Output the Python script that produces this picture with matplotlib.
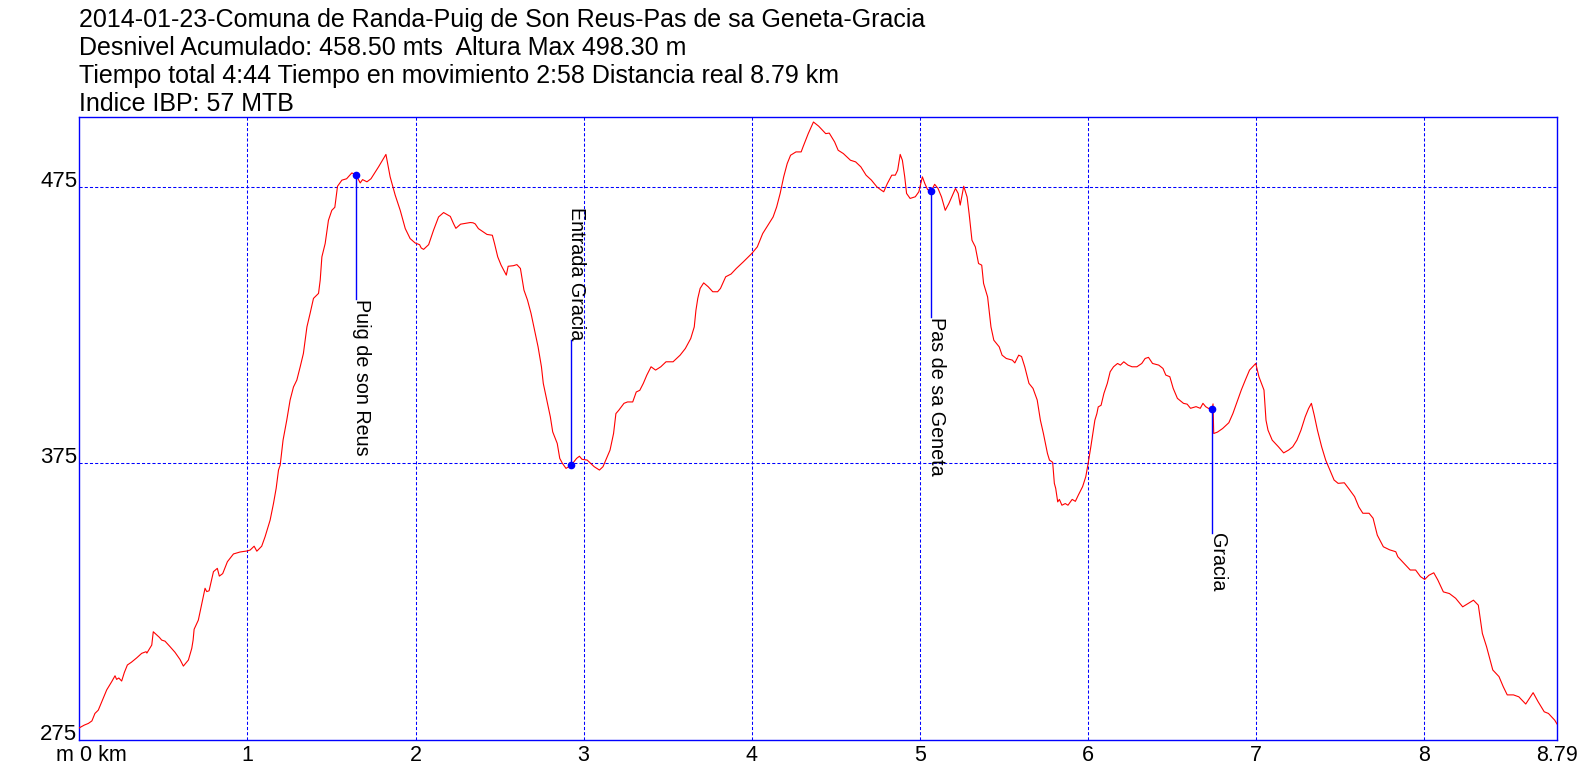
import matplotlib
matplotlib.use("Agg")
import matplotlib.pyplot as plt
import matplotlib.transforms as mtransforms

plt.rcParams['font.family'] = ['Liberation Sans', 'DejaVu Sans']

title_lines = [
    "2014-01-23-Comuna de Randa-Puig de Son Reus-Pas de sa Geneta-Gracia",
    "Desnivel Acumulado: 458.50 mts  Altura Max 498.30 m",
    "Tiempo total 4:44 Tiempo en movimiento 2:58 Distancia real 8.79 km",
    "Indice IBP: 57 MTB",
]

# elevation profile (km, m)
dist_km = [
    0.000, 0.030, 0.054, 0.075, 0.093, 0.113, 0.163, 0.193, 0.2125, 0.222,
    0.235, 0.252, 0.268, 0.286, 0.310, 0.342, 0.371, 0.397, 0.402, 0.431,
    0.440, 0.476, 0.490, 0.510, 0.540, 0.569, 0.599, 0.619, 0.649, 0.669,
    0.677, 0.683, 0.708, 0.729, 0.748, 0.758, 0.772, 0.798, 0.821, 0.833,
    0.853, 0.881, 0.917, 0.956, 1.000, 1.016, 1.040, 1.056, 1.085, 1.105,
    1.135, 1.155, 1.171, 1.185, 1.195, 1.212, 1.234, 1.254, 1.274, 1.294,
    1.314, 1.333, 1.354, 1.373, 1.393, 1.423, 1.433, 1.443, 1.4625, 1.482,
    1.502, 1.520, 1.536, 1.562, 1.590, 1.621, 1.645, 1.671, 1.685, 1.711,
    1.735, 1.780, 1.824, 1.849, 1.879, 1.909, 1.939, 1.968, 1.998, 2.024,
    2.034, 2.048, 2.078, 2.107, 2.137, 2.167, 2.207, 2.226, 2.240, 2.268,
    2.326, 2.342, 2.355, 2.374, 2.405, 2.425, 2.457, 2.470, 2.489, 2.509,
    2.540, 2.551, 2.582, 2.603, 2.624, 2.645, 2.666, 2.687, 2.708, 2.729,
    2.749, 2.760, 2.781, 2.802, 2.816, 2.843, 2.858, 2.874, 2.895, 2.927,
    2.958, 2.975, 2.990, 3.021, 3.063, 3.094, 3.115, 3.136, 3.157, 3.178,
    3.192, 3.209, 3.240, 3.261, 3.292, 3.313, 3.334, 3.355, 3.376, 3.401,
    3.428, 3.459, 3.490, 3.532, 3.574, 3.605, 3.637, 3.658, 3.668, 3.679,
    3.693, 3.714, 3.741, 3.768, 3.797, 3.814, 3.845, 3.877, 3.908, 3.950,
    4.000, 4.033, 4.065, 4.096, 4.127, 4.148, 4.169, 4.190, 4.211, 4.231,
    4.263, 4.294, 4.305, 4.336, 4.367, 4.398, 4.440, 4.461, 4.493, 4.514,
    4.545, 4.587, 4.618, 4.649, 4.680, 4.712, 4.744, 4.770, 4.785, 4.806,
    4.833, 4.854, 4.868, 4.883, 4.896, 4.910, 4.921, 4.942, 4.973, 4.994,
    5.015, 5.030, 5.046, 5.067, 5.088, 5.108, 5.129, 5.151, 5.172, 5.212,
    5.228, 5.240, 5.261, 5.281, 5.293, 5.310, 5.330, 5.349, 5.368, 5.379,
    5.403, 5.423, 5.440, 5.472, 5.489, 5.514, 5.550, 5.565, 5.588, 5.605,
    5.624, 5.649, 5.673, 5.698, 5.717, 5.735, 5.747, 5.759, 5.771, 5.790,
    5.800, 5.808, 5.820, 5.830, 5.845, 5.865, 5.881, 5.906, 5.925, 5.943,
    5.968, 5.987, 6.001, 6.017, 6.029, 6.041, 6.053, 6.061, 6.078, 6.095,
    6.115, 6.132, 6.152, 6.176, 6.193, 6.213, 6.238, 6.262, 6.291, 6.320,
    6.340, 6.360, 6.384, 6.421, 6.446, 6.463, 6.487, 6.507, 6.532, 6.568,
    6.590, 6.610, 6.643, 6.668, 6.684, 6.700, 6.716, 6.738, 6.744, 6.748,
    6.770, 6.801, 6.838, 6.862, 6.887, 6.912, 6.936, 6.961, 6.998, 7.017,
    7.047, 7.059, 7.071, 7.096, 7.133, 7.164, 7.193, 7.218, 7.243, 7.267,
    7.292, 7.312, 7.329, 7.346, 7.365, 7.390, 7.414, 7.439, 7.464, 7.488,
    7.525, 7.550, 7.586, 7.611, 7.635, 7.672, 7.696, 7.721, 7.757, 7.794,
    7.831, 7.843, 7.880, 7.917, 7.949, 7.978, 8.003, 8.028, 8.057, 8.081,
    8.114, 8.150, 8.187, 8.229, 8.261, 8.293, 8.322, 8.346, 8.371, 8.408,
    8.445, 8.470, 8.494, 8.531, 8.563, 8.604, 8.648, 8.677, 8.714, 8.739,
    8.776, 8.790,
]
elev_m = [
    279.5, 280.5, 281.1, 282.0, 284.7, 285.9, 293.2, 296.2, 298.3, 297.0,
    297.5, 296.4, 299.5, 302.2, 303.2, 304.8, 306.4, 307.0, 306.5, 309.4,
    314.2, 312.2, 311.2, 310.8, 308.8, 306.8, 304.2, 301.8, 304.0, 308.2,
    311.2, 315.1, 318.4, 324.5, 329.9, 328.7, 329.0, 335.9, 337.1, 334.3,
    335.2, 339.5, 342.3, 343.0, 343.4, 343.7, 345.1, 343.3, 345.1, 348.5,
    354.5, 360.5, 366.0, 372.6, 374.4, 383.4, 390.6, 397.9, 402.6, 405.1,
    409.9, 414.7, 424.3, 429.2, 434.6, 436.4, 441.2, 449.6, 454.4, 462.8,
    466.4, 467.5, 475.1, 477.3, 477.8, 479.9, 479.3, 476.3, 477.5, 476.7,
    477.8, 482.1, 486.6, 478.5, 471.9, 466.4, 459.8, 456.2, 454.6, 454.0,
    452.8, 452.3, 454.0, 459.2, 464.0, 465.6, 464.2, 461.6, 459.9, 461.4,
    462.0, 461.9, 461.5, 459.8, 458.5, 457.7, 457.4, 454.4, 449.6, 446.6,
    443.0, 446.2, 446.4, 446.8, 445.4, 437.6, 434.0, 429.2, 423.1, 417.1,
    409.9, 403.9, 397.9, 391.8, 386.4, 382.2, 376.8, 375.0, 373.2, 374.4,
    376.8, 377.6, 376.5, 376.2, 373.8, 372.6, 373.8, 376.8, 379.8, 385.8,
    393.0, 394.2, 396.7, 397.2, 397.2, 400.8, 401.4, 403.9, 406.9, 409.9,
    408.7, 409.9, 411.7, 411.7, 414.1, 416.5, 420.1, 424.3, 430.3, 434.6,
    438.2, 440.2, 438.8, 437.0, 437.0, 438.2, 442.4, 443.4, 445.4, 447.8,
    450.8, 453.2, 458.0, 461.0, 464.0, 467.6, 472.5, 478.5, 483.3, 486.3,
    487.5, 487.5, 489.3, 494.1, 498.3, 496.8, 494.1, 494.3, 491.1, 488.1,
    486.9, 484.5, 483.9, 482.1, 479.1, 477.3, 474.9, 473.7, 473.1, 476.0,
    479.1, 479.1, 480.9, 486.6, 484.5, 478.5, 472.5, 470.7, 471.3, 473.1,
    478.5, 476.0, 473.9, 473.3, 475.8, 474.3, 471.2, 466.4, 468.8, 474.3,
    472.5, 468.3, 475.1, 471.2, 465.2, 455.6, 453.2, 447.2, 446.6, 440.0,
    435.1, 424.3, 419.5, 417.1, 414.1, 412.9, 412.3, 411.3, 414.1, 413.6,
    409.9, 403.9, 402.1, 397.9, 390.6, 385.8, 382.2, 378.6, 376.2, 375.4,
    367.8, 366.0, 361.1, 362.0, 359.9, 360.5, 359.9, 362.0, 361.3, 363.6,
    366.6, 370.2, 375.0, 381.0, 385.8, 390.6, 393.0, 395.4, 396.0, 400.3,
    403.9, 408.1, 409.9, 411.1, 410.5, 411.7, 410.5, 409.9, 409.9, 411.1,
    412.9, 413.3, 411.1, 410.5, 409.3, 406.9, 406.3, 402.1, 398.5, 396.7,
    396.4, 394.9, 395.5, 394.9, 396.7, 395.5, 394.9, 394.5, 396.5, 385.8,
    386.3, 387.6, 389.7, 393.0, 397.2, 401.5, 405.1, 408.7, 411.1, 406.3,
    401.5, 390.6, 387.0, 383.4, 381.0, 378.8, 379.8, 381.0, 383.4, 387.0,
    391.8, 394.8, 396.7, 392.4, 387.0, 381.0, 376.2, 372.6, 369.0, 367.8,
    368.0, 366.0, 363.0, 359.3, 357.0, 357.0, 355.2, 349.1, 344.9, 343.8,
    343.1, 341.3, 338.9, 336.5, 336.5, 334.1, 333.1, 334.6, 335.5, 332.9,
    328.6, 328.0, 326.3, 323.2, 324.4, 325.6, 323.8, 313.6, 308.8, 300.4,
    298.0, 294.4, 291.4, 291.4, 290.7, 288.1, 292.2, 289.0, 285.3, 284.7,
    282.3, 280.9,
]

# waypoints
wpt_names = ["Puig de son Reus", "Entrada Gracia", "Pas de sa Geneta", "Gracia"]
wpt_km = [1.645, 2.927, 5.067, 6.738]
wpt_elev = [479.3, 374.4, 473.3, 394.5]

x_ticks = [1, 2, 3, 4, 5, 6, 7, 8]
x_max = 8.79
y_ticks = [275, 375, 475]

# where each vertical label ends / starts (m) and whether it sits above the point
label_at = [434.2, 419.6, 427.9, 349.7]
label_above = [False, True, False, False]

BLUE = '#0000ff'
RED = '#ff0000'
W, H = 1596, 778

fig = plt.figure(figsize=(W / 100, H / 100), dpi=100)
ax = fig.add_axes([79.3 / W, (H - 740.3) / H, (1557.0 - 79.3) / W, (740.3 - 117.3) / H])
ax.set_xlim(0, x_max)
ax.set_ylim(275, 500)
ax.set_xticks([])
ax.set_yticks([])
for sp in ax.spines.values():
    sp.set_color(BLUE)
    sp.set_linewidth(1.0)

dash = (0, (3, 2))
for k in x_ticks:
    ax.axvline(k, color=BLUE, lw=0.75, ls=dash, zorder=1)
for y in y_ticks[1:]:
    ax.axhline(y, color=BLUE, lw=0.75, ls=dash, zorder=1)

ax.plot(dist_km, elev_m, color=RED, lw=0.8, zorder=3)

for name, k, e, lab, above in zip(wpt_names, wpt_km, wpt_elev, label_at, label_above):
    ax.plot([k, k], [e, lab], color=BLUE, lw=1.0, zorder=4)
    ax.plot([k], [e], 'o', color=BLUE, ms=4.5, zorder=5)
    ax.text(k, lab, name, rotation=-90, rotation_mode='anchor',
            ha='right' if above else 'left', va='baseline',
            fontsize=14.2, color='black', zorder=6)

# axis labels drawn as text
px = mtransforms.ScaledTranslation
ytrans = mtransforms.blended_transform_factory(ax.transAxes, ax.transData)
for y in y_ticks:
    ax.text(0, y, str(y), transform=ytrans + px(-2 / 100, 0, fig.dpi_scale_trans),
            ha='right', va='baseline', fontsize=16, clip_on=False)

xtrans = ax.get_xaxis_transform()
off = px(0, -20.5 / 100, fig.dpi_scale_trans)
for k in x_ticks:
    ax.text(k, 0, str(k), transform=xtrans + off, ha='center', va='baseline',
            fontsize=15.5, clip_on=False)
ax.text(x_max, 0, f"{x_max:.2f}", transform=xtrans + off, ha='center', va='baseline',
        fontsize=15.5, clip_on=False)
ax.text(0, 0, "0 km", transform=xtrans + off + px(1 / 100, 0, fig.dpi_scale_trans),
        ha='left', va='baseline', fontsize=15.5, clip_on=False)
ax.text(0, 0, "m", transform=xtrans + off + px(-6 / 100, 0, fig.dpi_scale_trans),
        ha='right', va='baseline', fontsize=15.5, clip_on=False)

baselines = [26.5, 55.0, 83.5, 111.0]
for line, b in zip(title_lines, baselines):
    fig.text(79.4 / W, 1 - b / H, line, ha='left', va='baseline', fontsize=18)

fig.savefig('out.png', dpi=100)
